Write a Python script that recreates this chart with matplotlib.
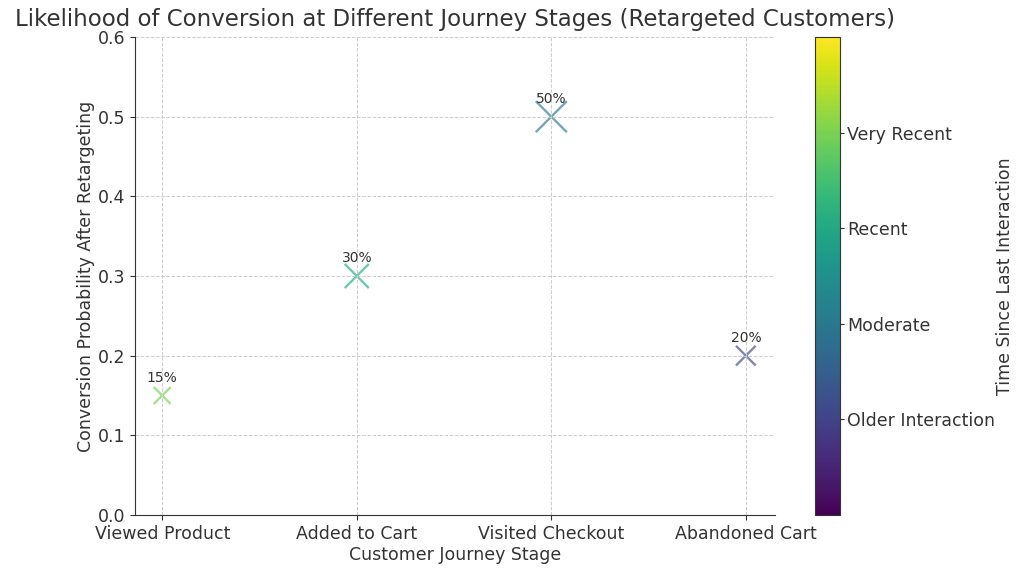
import numpy as np
import matplotlib.pyplot as plt

# Datos
stages = ["Viewed Product", "Added to Cart", "Visited Checkout", "Abandoned Cart"]
conversion = [0.15, 0.30, 0.50, 0.20]
recency = [0.8, 0.6, 0.4, 0.2]
recency_ticks = [0.2, 0.4, 0.6, 0.8]
recency_labels = ["Older Interaction", "Moderate", "Recent", "Very Recent"]

text_color = "#333333"
plt.rcParams["text.color"] = text_color
plt.rcParams["axes.labelcolor"] = text_color
plt.rcParams["xtick.color"] = text_color
plt.rcParams["ytick.color"] = text_color
plt.rcParams["axes.edgecolor"] = text_color

fig = plt.figure(figsize=(10.24, 5.71), dpi=100)
ax = fig.add_axes([135 / 1024, 1 - 515 / 571, 640 / 1024, 478 / 571])
cax = fig.add_axes([815 / 1024, 1 - 515 / 571, 25 / 1024, 478 / 571])

x = np.arange(len(stages))
sizes = np.array(conversion) * 1000
sc = ax.scatter(x, conversion, s=sizes, c=recency, cmap="viridis", vmin=0, vmax=1,
                marker="x", alpha=0.65, linewidths=1.7)

for xi, yi in zip(x, conversion):
    ax.annotate(f"{yi:.0%}", (xi, yi), textcoords="offset points", xytext=(0, 10),
                ha="center", fontsize=10, color=text_color)

ax.set_xticks(x)
ax.set_xticklabels(stages, fontsize=12.5)
ax.tick_params(axis="y", labelsize=12.5)
ax.set_ylim(0, 0.6)
ax.set_xlim(-0.14, 3.15)
ax.set_xlabel("Customer Journey Stage", fontsize=12.5, labelpad=2)
ax.set_ylabel("Conversion Probability After Retargeting", fontsize=12.5, labelpad=2)
ax.set_title("Likelihood of Conversion at Different Journey Stages (Retargeted Customers)",
             fontsize=16.5, pad=8)
ax.grid(True, linestyle="--", color="#cccccc", linewidth=0.7)
ax.spines["top"].set_visible(False)
ax.spines["right"].set_visible(False)

cbar = fig.colorbar(sc, cax=cax)
cbar.solids.set_alpha(1)
cbar.set_ticks(recency_ticks)
cbar.set_ticklabels(recency_labels)
cbar.ax.tick_params(labelsize=12.5, length=3, pad=2)
cbar.set_label("Time Since Last Interaction", fontsize=12.5, labelpad=1)

fig.savefig("out.png", dpi=100)
